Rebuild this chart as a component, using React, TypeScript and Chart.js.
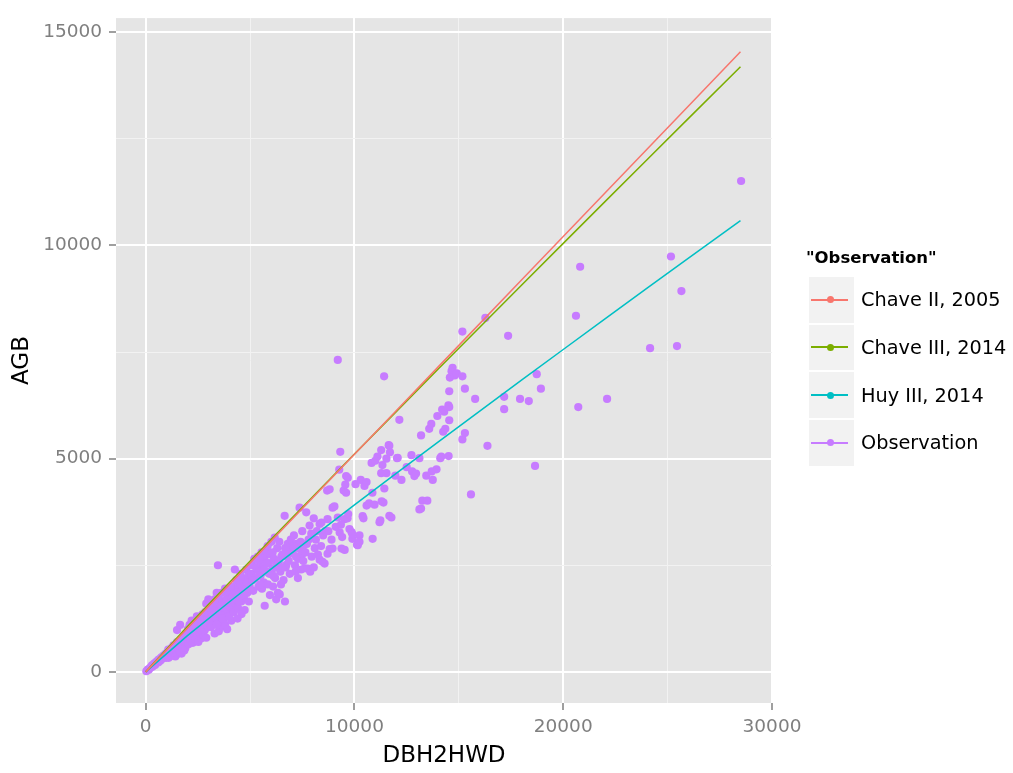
import React, { useEffect, useRef } from "react";
import { Chart, registerables } from "chart.js";

Chart.register(...registerables);

// ---- ticks / grid ----
const xGridValues = [0, 5000, 10000, 15000, 20000, 25000, 30000];
const yGridValues = [0, 2500, 5000, 7500, 10000, 12500, 15000];
const xMajorTicks = [0, 10000, 20000, 30000];
const yMajorTicks = [0, 5000, 10000, 15000];

// ---- model lines ----
const lineX = [0, 2000, 4000, 6000, 8000, 10000, 12000, 14000, 16000, 18000, 20000, 22000, 24000, 26000, 28490];
const chaveII = [0, 1021, 2041, 3062, 4083, 5104, 6125, 7146, 8166, 9187, 10208, 11229, 12250, 13270, 14540];
const chaveIII = [0, 1063, 2089, 3102, 4108, 5107, 6102, 7094, 8080, 9065, 10047, 11026, 12003, 12978, 14190];
const huyIII = [0, 849, 1639, 2408, 3165, 3914, 4653, 5387, 6115, 6840, 7559, 8276, 8990, 9700, 10580];

// ---- observations ----
const obsX = [
  30, 80, 120, 150, 200, 250, 300, 320, 380, 420, 450, 500, 550, 600, 620, 680, 700, 750, 800, 850, 900, 950, 980,
  1020, 1050, 1080, 1100, 1150, 1200, 1230, 1260, 1300, 1330, 1350, 1400, 1420, 1450, 1480, 1500, 1520, 1550, 1600, 1620, 1650, 1680, 1700, 1720, 1750, 1780, 1800, 1830, 1850, 1880, 1900, 1920, 1950, 1980, 1500, 1650,
  2000, 2020, 2050, 2080, 2100, 2150, 2180, 2200, 2230, 2260, 2300, 2320, 2350, 2380, 2400, 2420, 2450, 2480, 2500, 2520, 2550, 2580, 2600, 2630, 2650, 2680, 2700, 2720, 2750, 2780, 2800, 2830, 2850, 2880, 2900, 2950, 2980, 2900, 3000,
  3000, 3030, 3060, 3100, 3130, 3160, 3200, 3230, 3260, 3300, 3330, 3360, 3400, 3430, 3460, 3500, 3530, 3560, 3600, 3630, 3660, 3700, 3730, 3760, 3800, 3830, 3860, 3900, 3930, 3960, 3990, 3300, 3500, 3600, 3800, 3900, 4100, 3700, 4000, 3400, 3400, 3460,
  4020, 4060, 4100, 4140, 4180, 4220, 4260, 4300, 4340, 4380, 4420, 4460, 4500, 4540, 4580, 4620, 4660, 4700, 4740, 4780, 4820, 4860, 4900, 4940, 4980, 4270, 4590, 4400,
  4150, 4350, 4550, 4750, 4950, 4450, 4650, 4850,
  5050, 5100, 5150, 5200, 5250, 5300, 5350, 5370, 5400, 5450, 5500, 5550, 5570, 5600, 5650, 5700, 5700, 5750, 5800, 5840, 5850, 5900, 5950, 5980,
  5120, 5280, 5420, 5620, 5780, 5920, 5480, 5680,
  6020, 6050, 6100, 6150, 6180, 6200, 6250, 6270, 6300, 6330, 6400, 6420, 6450, 6500, 6550, 6600, 6655, 6670, 6700, 6740, 6800, 6850, 6900, 6950, 6980,
  6080, 6230, 6380, 6530, 6680, 6830, 6120, 6480,
  7050, 7100, 7150, 7230, 7290, 7300, 7370, 7370, 7450, 7480, 7500, 7550, 7610, 7690, 7760, 7800, 7850, 7880, 7930, 7950,
  7080, 7200, 7420, 7650, 7720, 7180, 7550,
  8050, 8100, 8200, 8330, 8330, 8470, 8500, 8570, 8600, 8690, 8710, 8710, 8810, 8810, 8900, 8950, 8950,
  8150, 8250, 8400, 8750, 8420, 8050,
  9040, 9200, 9200, 9270, 9290, 9320, 9380, 9410, 9480, 9520, 9530, 9560, 9600, 9600, 9670, 9680, 9760, 9860, 9900, 9900,
  9100, 9350, 9700,
  10050, 10120, 10160, 10240, 10240, 10300, 10390, 10430, 10480, 10580, 10580, 10700, 10820, 10870, 10860, 10960,
  11100, 11200, 11240, 11280, 11300, 11340, 11390, 11420, 11430, 11530, 11530, 11640, 11670, 11670, 11770, 11960, 11280, 11000, 11700,
  12040, 12070, 12150, 12250, 12500, 12730, 12760, 12870, 12950,
  13110, 13110, 13190, 13190, 13250, 13440, 13490, 13580, 13680, 13750, 13930, 13970, 13700,
  14110, 14160, 14250, 14350, 14300, 14500, 14510, 14540, 14540, 14540, 14570, 14650, 14700, 14800, 14900, 15170, 15170, 15170, 15290, 15290, 15580, 15780, 14200,
  16270, 16370, 17170, 17170, 17360, 17930, 18350, 18650, 18730, 18930, 20610, 20720, 20810, 22100, 24160, 25160, 25450, 25660, 28520,
];
const obsY = [
  15, 40, 60, 50, 90, 110, 150, 120, 170, 200, 160, 230, 250, 220, 290, 300, 260, 340, 310, 380, 350, 420, 330,
  450, 390, 520, 330, 480, 420, 560, 380, 500, 620, 450, 540, 360, 600, 480, 700, 420, 560, 650, 480, 520, 740, 600, 430, 680, 560, 800, 620, 500, 700, 560, 900, 760, 640, 980, 1100,
  800, 1000, 650, 900, 1100, 750, 950, 1200, 820, 680, 1000, 880, 1150, 760, 1050, 920, 1300, 820, 980, 700, 1100, 900, 1250, 1000, 780, 1150, 950, 1350, 1050, 850, 1200, 980, 1400, 1100, 800, 1250, 1050, 1600, 1700,
  1350, 1150, 1500, 1250, 1050, 1400, 1600, 1200, 1350, 1700, 1500, 1250, 1400, 1600, 1150, 1750, 1450, 1300, 1550, 1850, 1400, 1650, 1200, 1500, 1950, 1350, 1700, 1550, 1450, 1800, 1300, 900, 950, 1050, 1100, 1000, 1200, 1250, 1300, 1100, 1850, 2500,
  1600, 1850, 1500, 2000, 1700, 1400, 1900, 1600, 2150, 1750, 1500, 2000, 1800, 2300, 1650, 1950, 2200, 1750, 1450, 2050, 2400, 1850, 2150, 1650, 2000, 2400, 1355, 1250,
  1750, 1850, 2050, 1900, 2300, 1650, 1800, 2100,
  2300, 2500, 1900, 2650, 2200, 2650, 2400, 2700, 2000, 2600, 2250, 2800, 1950, 2450, 2100, 1550, 2700, 2350, 2800, 2950, 2050, 2550, 1800, 2750,
  2150, 2450, 2350, 2650, 2550, 2300, 2050, 2400,
  3050, 2400, 2000, 2650, 3150, 2200, 1700, 2550, 2900, 1850, 3050, 1815, 2350, 2700, 2750, 2150, 3660, 1650, 2450, 2510, 3000, 2600, 2300, 3100, 2850,
  2800, 2450, 2600, 2450, 2900, 2750, 2250, 2050,
  2775, 3200, 2500, 3000, 2200, 2650, 2880, 3850, 2400, 2740, 3300, 2950, 2430, 3740, 2420, 3100, 3430, 2350, 3240, 2700,
  2950, 2700, 3050, 2800, 3000, 2350, 2600,
  3600, 2900, 3300, 3470, 2630, 2580, 3200, 2540, 3300, 4250, 3580, 2770, 4280, 2880, 3100, 3850, 2890,
  3100, 2750, 2950, 3300, 3500, 2450,
  3880, 3620, 7315, 4740, 3270, 5160, 2890, 3160, 4250, 3580, 2860, 4390, 4590, 4200, 3600, 4550, 3350, 3280, 3120, 3230,
  3400, 3450, 3700,
  4400, 2980, 2970, 3200, 3050, 4500, 3650, 3600, 4360, 4450, 3900, 3950, 4900, 3120, 4200, 3920,
  5050, 3510, 3550, 4660, 4000, 4850, 3970, 6930, 4300, 4660, 5000, 5315, 5300, 3660, 3620, 4600, 5200, 4950, 5150,
  5010, 5020, 5910, 4500, 4800, 5080, 4700, 4590, 4650,
  5010, 3810, 5545, 3830, 4015, 4600, 4015, 5700, 5815, 4500, 4750, 6000, 4700,
  5010, 5050, 5630, 5700, 6100, 6250, 5060, 5900, 6210, 6580, 6900, 7050, 7130, 6950, 7000, 6930, 7980, 5450, 5600, 6640, 4160, 6400, 6150,
  8300, 5300, 6450, 6160, 7880, 6400, 6350, 4830, 6980, 6640, 8350, 6210, 9500, 6400, 7590, 9740, 7640, 8930, 11510,
];

const seriesNames = ["Chave II, 2005", "Chave III, 2014", "Huy III, 2014", "Observation"];
const seriesColors = ["#F8766D", "#7CAE00", "#00BFC4", "#C77CFF"];
const legendTitle = '"Observation"';
const xTitle = "DBH2HWD";
const yTitle = "AGB";

const FONT = "'DejaVu Sans', 'Liberation Sans', sans-serif";

const panelBg = {
  id: "panelBg",
  beforeDraw(chart: any) {
    const { ctx, chartArea } = chart;
    if (!chartArea) return;
    ctx.save();
    ctx.fillStyle = "#E5E5E5";
    ctx.fillRect(chartArea.left, chartArea.top, chartArea.right - chartArea.left, chartArea.bottom - chartArea.top);
    ctx.restore();
  },
};

function isMajor(list: number[], ctx: any) {
  const v = ctx && ctx.tick ? ctx.tick.value : null;
  return v !== null && list.includes(v);
}

export default function App() {
  const ref = useRef<HTMLCanvasElement | null>(null);

  useEffect(() => {
    if (!ref.current) return;
    const lines = [chaveII, chaveIII, huyIII];
    const datasets: any[] = lines.map((ys, k) => ({
      label: seriesNames[k],
      data: lineX.map((x, i) => ({ x, y: ys[i] })),
      showLine: true,
      borderColor: seriesColors[k],
      backgroundColor: seriesColors[k],
      borderWidth: 1.5,
      pointRadius: 0,
      pointHoverRadius: 0,
      fill: false,
      tension: 0,
    }));
    datasets.push({
      label: seriesNames[3],
      data: obsX.map((x, i) => ({ x, y: obsY[i] })),
      backgroundColor: seriesColors[3],
      borderWidth: 0,
      pointRadius: 4.1,
      pointHoverRadius: 4.1,
      showLine: false,
    });

    const chart = new Chart(ref.current, {
      type: "scatter",
      data: { datasets },
      options: {
        animation: false,
        responsive: false,
        devicePixelRatio: 1,
        events: [],
        layout: { padding: { left: 0, top: 7, right: 241, bottom: 0 } },
        plugins: { legend: { display: false }, tooltip: { enabled: false } },
        scales: {
          x: {
            type: "linear",
            position: "bottom",
            min: -1423,
            max: 30000,
            afterBuildTicks: (s: any) => {
              s.ticks = xGridValues.map((v) => ({ value: v }));
            },
            afterFit: (s: any) => {
              s.height = 70;
            },
            border: { display: false },
            grid: {
              color: (c: any) => (isMajor(xMajorTicks, c) ? "#FFFFFF" : "#F2F2F2"),
              lineWidth: (c: any) => (isMajor(xMajorTicks, c) ? 2 : 1),
              tickLength: 7,
              tickWidth: 1.5,
              tickColor: (c: any) => (isMajor(xMajorTicks, c) ? "#7F7F7F" : "rgba(0,0,0,0)"),
            },
            ticks: {
              autoSkip: false,
              maxRotation: 0,
              padding: 6,
              color: "#7F7F7F",
              font: { family: FONT, size: 18.5 },
              callback: (v: any) => (xMajorTicks.includes(Number(v)) ? String(v) : ""),
            },
            title: {
              display: true,
              text: xTitle,
              color: "#000000",
              font: { family: FONT, size: 23 },
              padding: { top: 0, bottom: 3 },
            },
          },
          y: {
            type: "linear",
            position: "left",
            min: -730,
            max: 15330,
            afterBuildTicks: (s: any) => {
              s.ticks = yGridValues.map((v) => ({ value: v }));
            },
            afterFit: (s: any) => {
              s.width = 116;
            },
            border: { display: false },
            grid: {
              color: (c: any) => (isMajor(yMajorTicks, c) ? "#FFFFFF" : "#F2F2F2"),
              lineWidth: (c: any) => (isMajor(yMajorTicks, c) ? 2 : 1),
              tickLength: 7,
              tickWidth: 1.5,
              tickColor: (c: any) => (isMajor(yMajorTicks, c) ? "#7F7F7F" : "rgba(0,0,0,0)"),
            },
            ticks: {
              autoSkip: false,
              padding: 7,
              color: "#7F7F7F",
              font: { family: FONT, size: 18.5 },
              callback: (v: any) => (yMajorTicks.includes(Number(v)) ? String(v) : ""),
            },
            title: {
              display: true,
              text: yTitle,
              color: "#000000",
              font: { family: FONT, size: 23 },
              padding: { top: 8, bottom: 0 },
            },
          },
        },
      },
      plugins: [panelBg],
    } as any);
    return () => chart.destroy();
  }, []);

  const rowTop = (i: number) => 277 + i * 47.7;

  return (
    <div style={{ position: "absolute", left: 0, top: 0, width: 1013, height: 773, background: "#FFFFFF", fontFamily: FONT }}>
      <canvas ref={ref} width={1013} height={773} style={{ position: "absolute", left: 0, top: 0 }} />
      <div
        style={{
          position: "absolute",
          left: 806,
          top: 248,
          fontSize: "16.5px",
          lineHeight: "20px",
          fontWeight: "bold",
          color: "#000",
          whiteSpace: "nowrap",
        }}
      >
        {legendTitle}
      </div>
      {seriesNames.map((name, i) => (
        <React.Fragment key={name}>
          <div
            style={{
              position: "absolute",
              left: 809,
              top: rowTop(i),
              width: 45,
              height: 45.5,
              background: "#F2F2F2",
            }}
          >
            <div
              style={{
                position: "absolute",
                left: 2,
                top: 21.75,
                width: 37,
                height: 2,
                background: seriesColors[i],
              }}
            />
            <div
              style={{
                position: "absolute",
                left: 17.5,
                top: 19.25,
                width: 7,
                height: 7,
                borderRadius: "50%",
                background: seriesColors[i],
              }}
            />
          </div>
          <div
            style={{
              position: "absolute",
              left: 861,
              top: rowTop(i),
              height: 45.5,
              display: "flex",
              alignItems: "center",
              fontSize: "19.3px",
              color: "#000",
              whiteSpace: "nowrap",
            }}
          >
            {name}
          </div>
        </React.Fragment>
      ))}
    </div>
  );
}
